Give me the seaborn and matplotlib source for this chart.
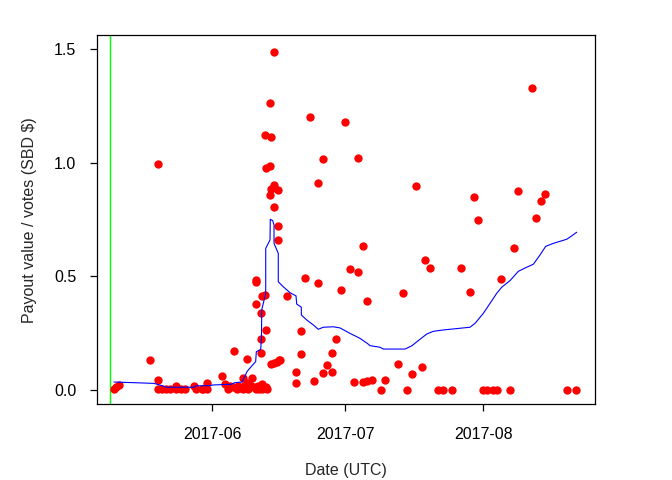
import numpy as np
import pandas as pd
import matplotlib
matplotlib.use("Agg")
import matplotlib.pyplot as plt
import matplotlib.dates as mdates
import seaborn as sns

# ---- data (days since 2017-06-01, value) ----
point_days = [-22.14, -21.58, -21.01, -13.96, -12.16, -12.16, -12.16, -11.33, -10.43, -9.53,
              -8.18, -8.18, -7.05, -6.15, -4.12, -3.56, -2.09, -1.19, -1.19, 2.12,
              2.86, 4.66, 4.95, 5.50, 6.24, 6.85, 6.85, 7.75, 7.88, 8.49,
              9.01, 9.39, 9.91, 10.29, 11.13, 11.49, 12.03, 11.04, 10.97, 12.03,
              13.15, 13.83, 14.50, 15.02, 13.96, 13.04, 11.91, 13.11, 12.03, 13.04,
              13.94, 13.11, 14.86, 13.06, 13.96, 14.86, 14.84, 9.95, 9.95, 11.13,
              11.94, 9.95, 11.04, 16.89, 22.07, 29.95, 24.93, 32.88, 23.87, 45.95,
              34.01, 47.97, 49.10, 31.01, 32.88, 20.88, 23.87, 28.99, 34.91, 43.02,
              20.05, 27.97, 20.05, 27.03, 15.25, 41.82, 25.90, 47.12, 18.85, 24.93,
              27.03, 45.05, 18.85, 22.97, 31.98, 33.94, 34.91, 36.04, 38.96, 38.06,
              43.85, 50.88, 52.03, 54.05, 72.07, 68.92, 59.01, 75.00, 74.10, 59.91,
              72.97, 68.02, 56.08, 65.09, 58.11, 61.04, 61.94, 63.11, 64.05, 67.09,
              79.95, 81.98,
              3.54, 3.99, 5.79, 7.14, 8.04, 10.60, 11.19, 12.32, -2.39]
point_values = [0.004, 0.013, 0.022, 0.131, 0.993, 0.044, 0.004, 0.004, 0.004, 0.004,
                0.018, 0.004, 0.004, 0.004, 0.018, 0.004, 0.004, 0.031, 0.004, 0.062,
                0.026, 0.013, 0.170, 0.004, 0.009, 0.053, 0.004, 0.031, 0.135, 0.022,
                0.053, 0.013, 0.004, 0.018, 0.026, 0.009, 0.013, 0.223, 0.163, 0.262,
                0.114, 0.119, 0.123, 0.132, 1.489, 1.263, 1.121, 1.111, 0.977, 0.985,
                0.902, 0.884, 0.879, 0.856, 0.804, 0.721, 0.659, 0.484, 0.474, 0.414,
                0.417, 0.377, 0.337, 0.413, 1.200, 1.178, 1.015, 1.019, 0.909, 0.896,
                0.632, 0.571, 0.535, 0.531, 0.518, 0.491, 0.469, 0.439, 0.390, 0.425,
                0.258, 0.223, 0.157, 0.161, 0.131, 0.113, 0.109, 0.100, 0.078, 0.073,
                0.078, 0.069, 0.029, 0.038, 0.034, 0.034, 0.038, 0.043, 0.043, 0.0,
                0.0, 0.0, 0.0, 0.0, 1.327, 0.874, 0.848, 0.861, 0.830, 0.747,
                0.755, 0.623, 0.535, 0.487, 0.430, 0.0, 0.0, 0.0, 0.0, 0.0,
                0.0, 0.0,
                0.004, 0.018, 0.018, 0.018, 0.004, 0.004, 0.004, 0.004, 0.004]

line_days = [-22.14, -13.13, -11.85, -10.36, -3.96, -3.83, -0.59, 0.16, 4.28, 5.05,
             6.69, 6.98, 7.30, 7.82, 8.78, 9.77, 9.91, 10.90, 11.08, 11.13,
             12.03, 12.03, 13.00, 13.06, 13.60, 13.90, 13.90, 14.86, 14.86, 15.99,
             17.50, 18.85, 19.01, 20.05, 20.05, 21.26, 22.75, 23.87, 25.00, 27.25,
             28.76, 31.01, 33.27, 34.91, 35.52, 37.77, 38.51, 43.40, 44.91, 46.78,
             48.29, 49.77, 52.03, 55.05, 58.04, 59.17, 61.04, 62.55, 64.05, 65.18,
             67.05, 68.92, 70.81, 72.30, 73.81, 75.09, 76.80, 79.82, 80.95, 82.07]
line_values = [0.035, 0.029, 0.022, 0.012, 0.012, 0.018, 0.019, 0.022, 0.025, 0.032,
               0.035, 0.047, 0.059, 0.081, 0.103, 0.125, 0.168, 0.179, 0.229, 0.352,
               0.425, 0.623, 0.660, 0.751, 0.745, 0.726, 0.645, 0.601, 0.476, 0.454,
               0.428, 0.414, 0.378, 0.364, 0.330, 0.308, 0.286, 0.267, 0.276, 0.278,
               0.273, 0.249, 0.227, 0.205, 0.195, 0.188, 0.180, 0.180, 0.194, 0.223,
               0.246, 0.258, 0.264, 0.270, 0.276, 0.293, 0.337, 0.381, 0.425, 0.452,
               0.481, 0.522, 0.540, 0.553, 0.594, 0.632, 0.645, 0.663, 0.678, 0.694]

marker_day = -22.97
x_ticks = ["2017-06-01", "2017-07-01", "2017-08-01"]
y_ticks = [0.0, 0.5, 1.0, 1.5]

base = pd.Timestamp("2017-06-01")
pts = pd.DataFrame({"date": base + pd.to_timedelta(point_days, unit="D"),
                    "value": point_values})
ln = pd.DataFrame({"date": base + pd.to_timedelta(line_days, unit="D"),
                   "value": line_values})

sns.set_style("white")
plt.rcParams["font.family"] = ["Liberation Sans", "DejaVu Sans"]
plt.rcParams["font.size"] = 11.5

fig = plt.figure(figsize=(6.72, 4.8), dpi=100)
ax = fig.add_axes([97 / 672, 1 - 403.6 / 480, 498 / 672, 368.2 / 480])

ax.axvline(base + pd.Timedelta(days=marker_day), color="#00FF00", lw=1.0, zorder=1)
sns.scatterplot(data=pts, x="date", y="value", color="red", s=36, linewidth=0,
                ax=ax, zorder=2)
sns.lineplot(data=ln, x="date", y="value", color="blue", lw=0.8, estimator=None,
             sort=False, ax=ax, zorder=3)

ax.set_xlim(base + pd.Timedelta(days=(97 - 212.3) / 4.44),
            base + pd.Timedelta(days=(595 - 212.3) / 4.44))
ax.set_ylim(-0.06, 1.56)
ax.set_xticks(pd.to_datetime(x_ticks))
ax.xaxis.set_major_formatter(mdates.DateFormatter("%Y-%m"))
ax.set_yticks(y_ticks)
ax.set_yticklabels([f"{v:.1f}" for v in y_ticks])
ax.set_xlabel("")
ax.set_ylabel("")
for s in ax.spines.values():
    s.set_visible(True)
    s.set_color("black")
    s.set_linewidth(0.9)
ax.tick_params(axis="both", direction="out", length=5, width=0.9, colors="black",
               labelsize=11.5, left=True, bottom=True)
ax.tick_params(axis="x", pad=12)
ax.tick_params(axis="y", pad=10)

fig.text(346 / 672, 1 - 470 / 480, "Date (UTC)", ha="center", va="center", fontsize=11.5)
fig.text(30 / 672, 1 - 220 / 480, "Payout value / votes (SBD $)", ha="center",
         va="center", rotation=90, fontsize=11.5)

fig.savefig("out.png", dpi=100, facecolor="white")
